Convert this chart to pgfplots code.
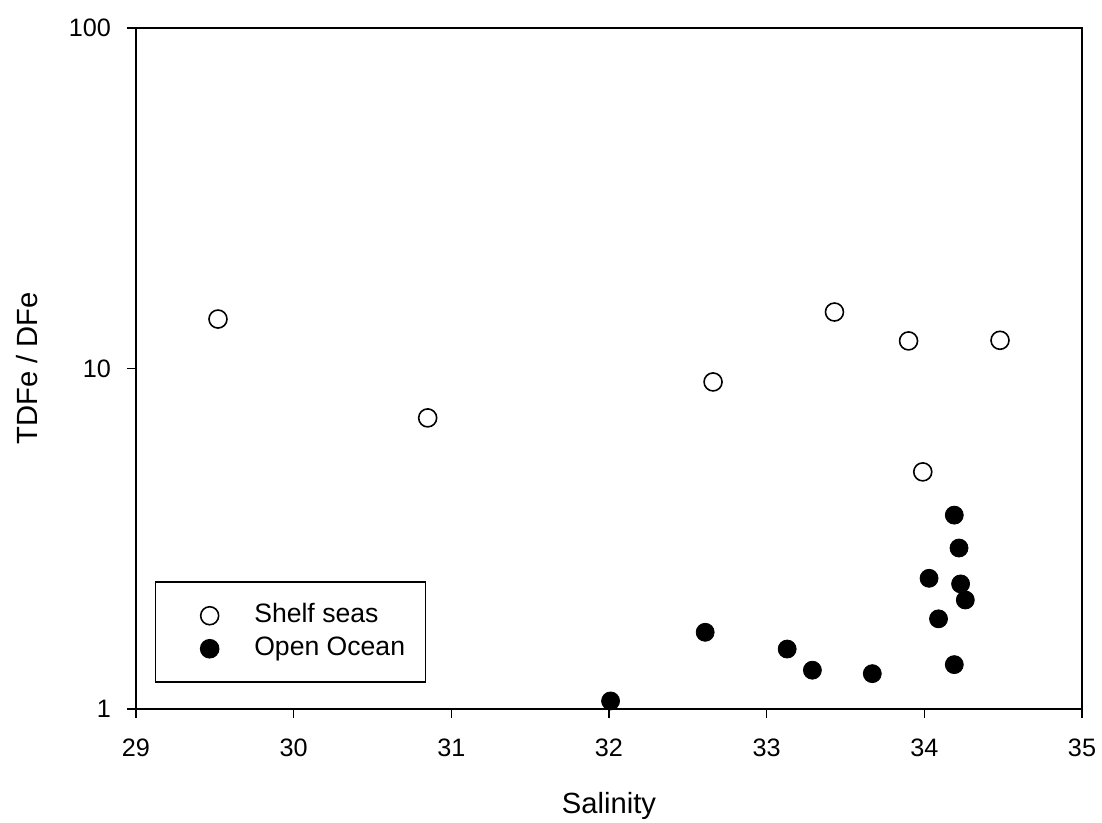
\documentclass[border=0pt]{standalone}
\usepackage{fontspec}
\setmainfont{Liberation Sans}
\usepackage{pgfplots}
\pgfplotsset{compat=1.18}
\begin{document}
\begin{tikzpicture}
\useasboundingbox (-68pt,-57pt) rectangle (483pt,354.5pt);
\begin{axis}[
  at={(0,0)}, anchor=south west,
  scale only axis, width=473pt, height=340.5pt,
  xmin=29, xmax=35, ymode=log, ymin=1, ymax=100,
  xtick={29,30,31,32,33,34,35},
  ytick={1,10,100}, yticklabels={1,10,100},
  yminorticks=false, xminorticks=false,
  xtick pos=bottom, ytick pos=left,
  tick align=outside, major tick length=4.5pt,
  axis line style={line width=0.75pt},
  every tick/.style={line width=0.75pt, black},
  /pgf/number format/assume math mode=true,
  ticklabel style={font=\fontsize{12.6}{14}\selectfont},
  xticklabel style={anchor=north, yshift=-6.8pt},
  yticklabel style={anchor=east, xshift=-4.5pt},
  xlabel={Salinity}, ylabel={TDFe / DFe},
  label style={font=\fontsize{14.6}{17}\selectfont},
  xlabel style={at={(axis description cs:0.5,-0.142)}, anchor=center},
  ylabel style={at={(axis description cs:-0.1147,0.5)}, anchor=center},
  legend style={
    at={(axis description cs:0.0200,0.0382)}, anchor=south west,
    draw=black, line width=0.75pt,
    font=\fontsize{13.3}{15}\selectfont,
    inner xsep=8.3pt, inner ysep=8.5pt, row sep=0pt,
    nodes={text height=9.6pt, text depth=2.7pt, inner ysep=2.1pt},
    /tikz/every odd column/.append style={column sep=15.8pt},
    cells={anchor=west}
  },
  legend image code/.code={
    \path[draw=none,fill=none] (-18.7pt,-4.5pt) rectangle (4.5pt,4.5pt);
    \draw[#1, line width=0.8pt] plot coordinates {(0pt,0pt)};
  },
]
\addplot[only marks, mark=o, black, mark size=4.5pt, mark options={line width=0.8pt, fill=white}] coordinates {
(29.52,13.97) (30.85,7.16) (32.66,9.13) (33.43,14.65) (33.90,12.05) (34.48,12.10) (33.99,4.97)
};
\addlegendentry{Shelf seas}
\addplot[only marks, mark=*, black, mark size=4.5pt] coordinates {
(32.01,1.056) (32.61,1.68) (33.13,1.50) (33.29,1.30) (33.67,1.27) (34.19,3.71) (34.22,2.97)
(34.03,2.42) (34.23,2.33) (34.26,2.09) (34.09,1.84) (34.19,1.35)
};
\addlegendentry{Open Ocean}
\end{axis}
\end{tikzpicture}
\end{document}
